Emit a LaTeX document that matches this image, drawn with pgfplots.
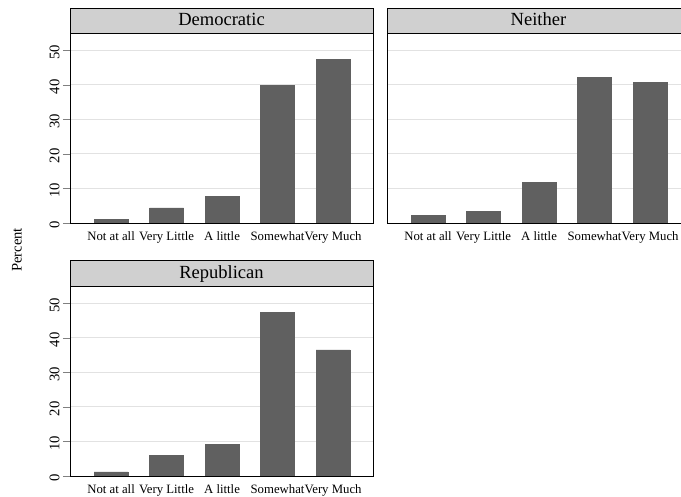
\documentclass[border=0pt]{standalone}
\usepackage{fontspec}
\setmainfont{Liberation Serif}
\usepackage{pgfplots}
\pgfplotsset{compat=1.18}

\definecolor{barfill}{RGB}{96,96,96}
\definecolor{stripfill}{RGB}{208,208,208}
\definecolor{gridgray}{RGB}{226,226,226}

% one panel of the by-graph, sizes in px of the reference (1px = 1bp)
\pgfplotsset{
	panel/.style={
		scale only axis, width=303bp, height=190bp,
		anchor=south west,
		xmin=0.26, xmax=5.72, ymin=0, ymax=55,
		ybar, bar width=34bp,
		xtick={1,...,5},
		xticklabels={Not at all, Very Little, A little, Somewhat, Very Much},
		xtick style={draw=none},
		x tick label style={font=\fontsize{12.8pt}{14pt}\selectfont, inner sep=0pt, yshift=-1bp},
		ytick={0,10,...,50},
		ytick pos=left,
		tick align=outside, major tick length=7bp,
		y tick label style={rotate=90, anchor=south, xshift=-2bp, font=\fontsize{14.7pt}{16pt}\selectfont},
		/pgf/number format/assume math mode=true,
		ymajorgrids, grid style={gridgray, line width=0.9bp},
		axis line style={line width=0.9bp},
	},
	bars/.style={fill=barfill, draw=barfill, line width=0.3bp},
}
\tikzset{strip/.style={fill=stripfill, line width=0.9bp}}

\begin{document}
\begin{tikzpicture}
\useasboundingbox (0,0) rectangle (681bp,497bp);
%
\begin{axis}[panel, name=p1, at={(70bp,274bp)}]
	\addplot[bars] coordinates {(1,1.0) (2,4.4) (3,7.8) (4,39.8) (5,47.3)};
\end{axis}
\draw[strip] (p1.north west) rectangle ([yshift=25bp]p1.north east);
\node[anchor=base, font=\fontsize{18.6pt}{20pt}\selectfont] at ([yshift=7.5bp]p1.north) {Democratic};
%
\begin{axis}[panel, name=p2, at={(387bp,274bp)}, yticklabels={}, ytick style={draw=none}]
	\addplot[bars] coordinates {(1,2.2) (2,3.3) (3,11.8) (4,42.2) (5,40.8)};
\end{axis}
\draw[strip] (p2.north west) rectangle ([yshift=25bp]p2.north east);
\node[anchor=base, font=\fontsize{18.6pt}{20pt}\selectfont] at ([yshift=7.5bp]p2.north) {Neither};
%
\begin{axis}[panel, name=p3, at={(70bp,21bp)}]
	\addplot[bars] coordinates {(1,1.2) (2,5.9) (3,9.2) (4,47.4) (5,36.5)};
\end{axis}
\draw[strip] (p3.north west) rectangle ([yshift=25.5bp]p3.north east);
\node[anchor=base, font=\fontsize{18.6pt}{20pt}\selectfont] at ([yshift=8bp]p3.north) {Republican};
%
\node[rotate=90, font=\fontsize{14.7pt}{16pt}\selectfont] at (17bp,247bp) {Percent};
\end{tikzpicture}
\end{document}
